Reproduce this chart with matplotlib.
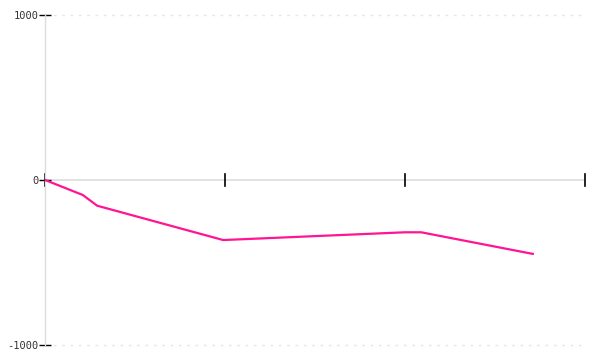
import matplotlib
matplotlib.use("Agg")
import matplotlib.pyplot as plt

# values
x_vals = [0.0, 0.21, 0.29, 0.99, 2.0, 2.09, 2.71]
y_vals = [0, -91, -156, -364, -317, -317, -448]
y_ticks = [-1000, 0, 1000]
x_ticks = [0, 1, 2, 3]

fig = plt.figure(figsize=(6, 3.6), dpi=100)
ax = fig.add_axes([0.075, 0.0417, 0.9, 0.9167])

ax.set_xlim(0, 3)
ax.set_ylim(-1000, 1000)

# dotted grid at the outer ticks
for yv in (-1000, 1000):
    ax.axhline(yv, color="#e6e6e6", linestyle=(0, (2, 4)), linewidth=1, clip_on=False, zorder=0)

ax.plot(x_vals, y_vals, color="#ff1493", linewidth=1.6, solid_joinstyle="round", zorder=3)

for side in ("top", "right", "bottom"):
    ax.spines[side].set_visible(False)
ax.spines["left"].set_color("#dddddd")
ax.spines["left"].set_linewidth(1)

# x axis drawn at zero
ax.axhline(0, color="#dddddd", linewidth=1.2, zorder=1)
ax.set_xticks(x_ticks)
ax.set_xticklabels([])
ax.tick_params(axis="x", direction="inout", length=0)
for xt in x_ticks:
    ax.plot([xt, xt], [35, -35], color="black", linewidth=1.2, clip_on=False, zorder=2)

ax.set_yticks(y_ticks)
ax.set_yticklabels([str(v) for v in y_ticks], fontfamily="DejaVu Sans Mono", fontsize=7.5, color="#333333")
ax.tick_params(axis="y", direction="inout", length=9, width=1, color="black", pad=0)

fig.savefig("out.png", dpi=100, facecolor="white")
